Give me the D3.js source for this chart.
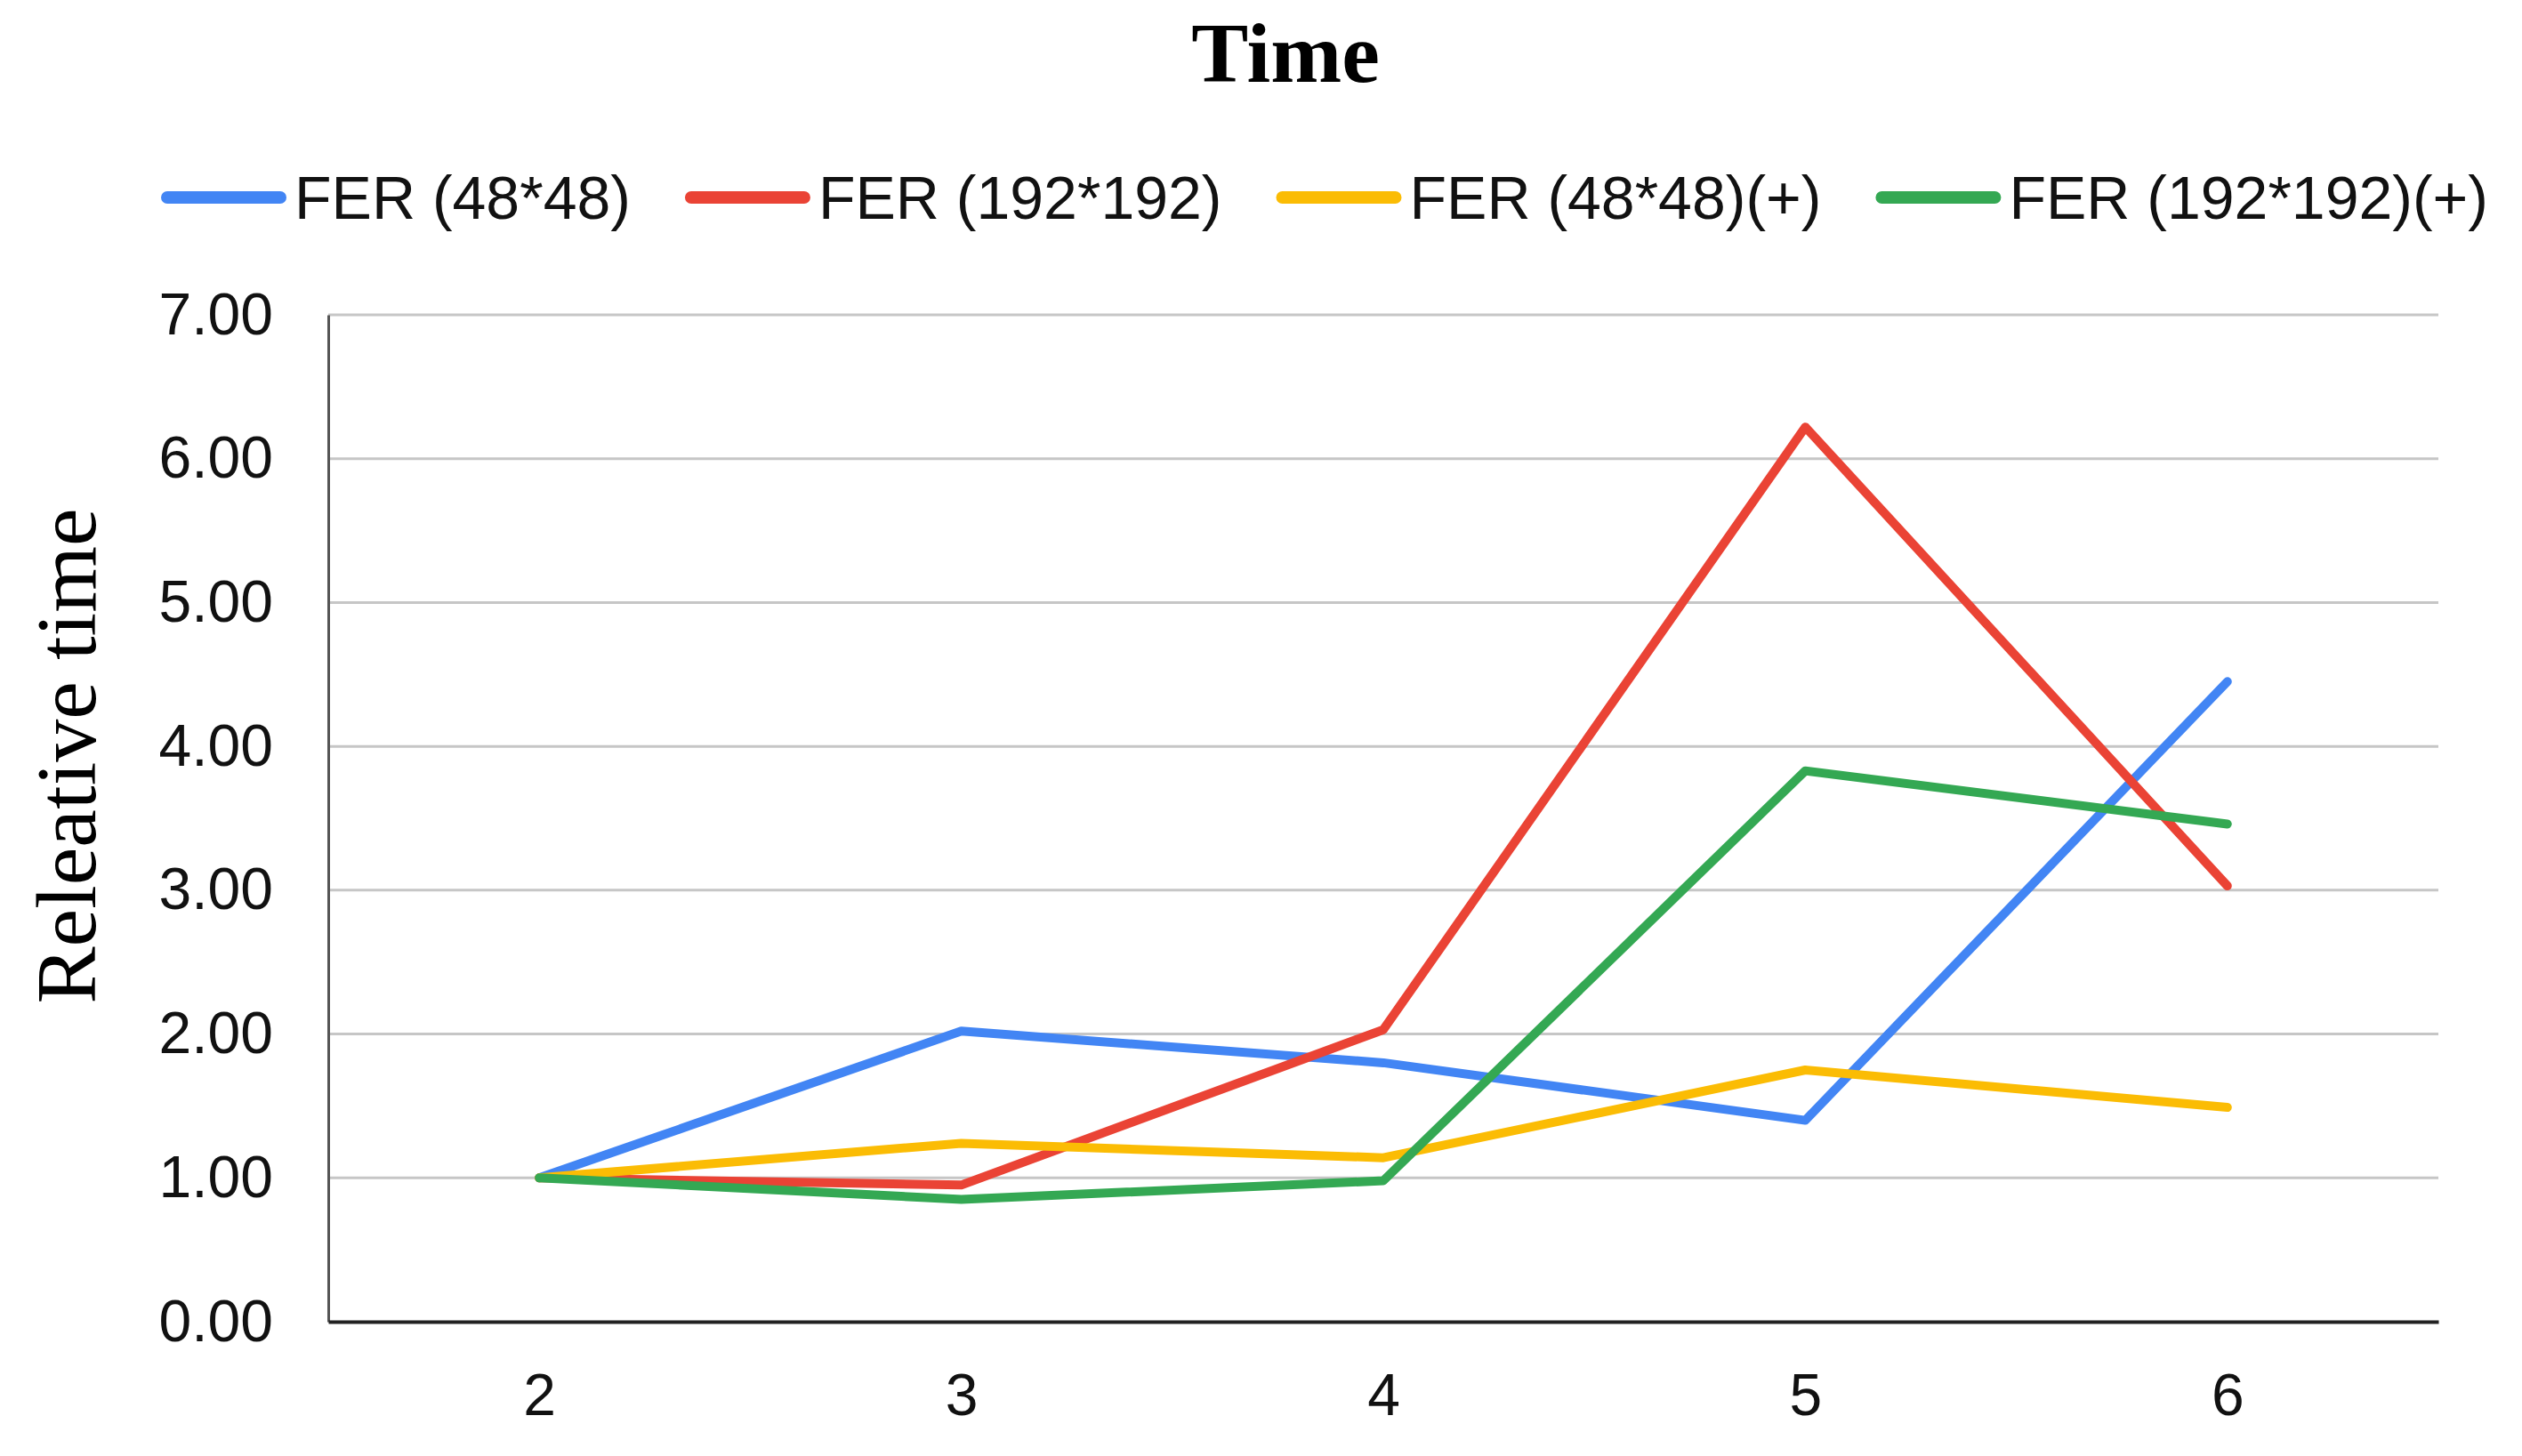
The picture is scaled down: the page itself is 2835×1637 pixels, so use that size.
<!DOCTYPE html>
<html><head><meta charset="utf-8">
<script src="https://cdn.jsdelivr.net/npm/d3@7"></script>
<style>html,body{margin:0;padding:0;background:#fff;}</style>
</head><body>
<svg id="chart" width="2835" height="1637"></svg>
<script>
const categories = ["2", "3", "4", "5", "6"];
const seriesNames = ["FER (48*48)", "FER (192*192)", "FER (48*48)(+)", "FER (192*192)(+)"];
const seriesColors = ["#4285F4", "#EA4335", "#FBBC04", "#34A853"];
const fer48 = [1.00, 2.02, 1.80, 1.40, 4.45];
const fer192 = [1.00, 0.95, 2.03, 6.22, 3.03];
const fer48plus = [1.00, 1.24, 1.14, 1.75, 1.49];
const fer192plus = [1.00, 0.85, 0.98, 3.83, 3.46];
const yTicks = [0, 1, 2, 3, 4, 5, 6, 7];
const titleText = "Time";
const yLabel = "Releative time";

const seriesValues = [fer48, fer192, fer48plus, fer192plus];

const svg = d3.select("#chart");
const m = {left: 369, right: 2741, top: 354, bottom: 1486};

const x = d3.scalePoint().domain(categories).range([m.left, m.right]).padding(0.5);
const y = d3.scaleLinear().domain([0, 7]).range([m.bottom, m.top]);

// title
svg.append("text").attr("x", 1445).attr("y", 92).attr("text-anchor", "middle")
  .attr("font-family", "Liberation Serif, Times New Roman, serif").attr("font-weight", "bold")
  .attr("font-size", 96).attr("fill", "#000").text(titleText);

// gridlines
svg.append("g").selectAll("line").data(yTicks.filter(d => d > 0)).join("line")
  .attr("x1", m.left).attr("x2", m.right)
  .attr("y1", d => y(d)).attr("y2", d => y(d))
  .attr("stroke", "#c6c6c6").attr("stroke-width", 3);

// y axis
const yAxis = d3.axisLeft(y).tickValues(yTicks).tickFormat(d3.format(".2f")).tickSize(0).tickPadding(62);
const gy = svg.append("g").attr("transform", `translate(${m.left},0)`).call(yAxis);
gy.select(".domain").attr("stroke", "#555").attr("stroke-width", 3);
gy.selectAll("text").attr("font-family", "Liberation Sans, Arial, sans-serif").attr("font-size", 66).attr("fill", "#111");

// x axis
const xAxis = d3.axisBottom(x).tickSize(0).tickPadding(58);
const gx = svg.append("g").attr("transform", `translate(0,${m.bottom})`).call(xAxis);
gx.select(".domain").attr("stroke", "#222").attr("stroke-width", 4);
gx.selectAll("text").attr("font-family", "Liberation Sans, Arial, sans-serif").attr("font-size", 66).attr("fill", "#111");

// y label
svg.append("text").attr("transform", "translate(107,850) rotate(-90)").attr("text-anchor", "middle")
  .attr("font-family", "Liberation Serif, Times New Roman, serif")
  .attr("font-size", 96).attr("fill", "#000").text(yLabel);

// lines
const line = d3.line().x((d, i) => x(categories[i])).y(d => y(d));
svg.append("g").selectAll("path").data(seriesValues).join("path")
  .attr("d", d => line(d)).attr("fill", "none")
  .attr("stroke", (d, i) => seriesColors[i]).attr("stroke-width", 10)
  .attr("stroke-linejoin", "round").attr("stroke-linecap", "round");

// legend
const lg = svg.append("g");
let lx = 181;
seriesNames.forEach((name, i) => {
  lg.append("line").attr("x1", lx + 7).attr("x2", lx + 134).attr("y1", 222).attr("y2", 222)
    .attr("stroke", seriesColors[i]).attr("stroke-width", 14).attr("stroke-linecap", "round");
  const t = lg.append("text").attr("x", lx + 150).attr("y", 246)
    .attr("font-family", "Liberation Sans, Arial, sans-serif").attr("font-size", 68).attr("fill", "#111").text(name);
  lx += 150 + t.node().getComputedTextLength() + 61;
});
</script>
</body></html>
